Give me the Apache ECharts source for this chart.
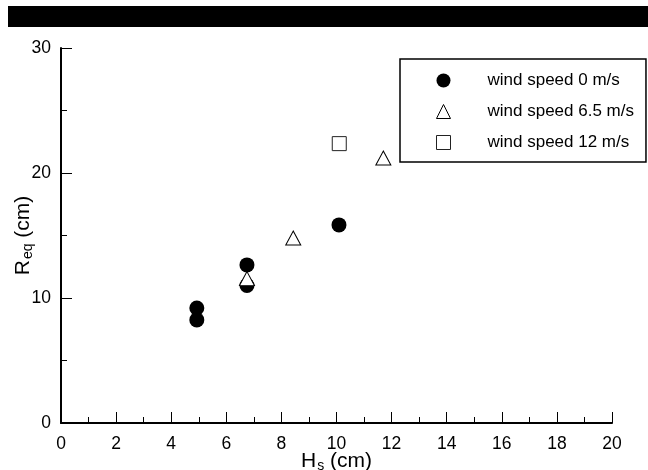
<!DOCTYPE html>
<html>
<head>
<meta charset="utf-8">
<script src="https://cdn.jsdelivr.net/npm/echarts@6/dist/echarts.min.js"></script>
<style>
  html, body { margin: 0; padding: 0; background: #fff; }
  #chart { width: 648px; height: 470px; }
</style>
</head>
<body>
<div id="chart"></div>
<script>
// Equivalent run-up R_eq versus significant wave height H_s, grouped by wind speed
const seriesNames = ['wind speed 0 m/s', 'wind speed 6.5 m/s', 'wind speed 12 m/s'];
const wind0 = [[4.93, 9.2], [4.93, 8.25], [6.75, 12.65], [6.75, 11.0], [10.09, 15.85]];
const wind65 = [[6.75, 11.55], [8.43, 14.8], [11.7, 21.2]];
const wind12 = [[10.1, 22.35]];
const xTicks = { min: 0, max: 20, interval: 2 };
const yTicks = { min: 0, max: 30, interval: 10 };

const FONT = '"Liberation Sans", Arial, sans-serif';
const chart = echarts.init(document.getElementById('chart'), null, { renderer: 'canvas' });

const axisCommon = {
  axisLine: { show: true, onZero: false, lineStyle: { color: '#000', width: 2 } },
  axisTick: { show: true, inside: true, length: 11, lineStyle: { color: '#000', width: 1 } },
  minorTick: { show: true, splitNumber: 2, length: 6, lineStyle: { color: '#000', width: 1 } },
  splitLine: { show: false },
  axisLabel: { color: '#000', fontFamily: FONT, fontSize: 17.5 }
};

const titleRich = {
  a: { fontFamily: FONT, fontSize: 21, color: '#000' },
  b: { fontFamily: FONT, fontSize: 14, color: '#000', padding: [9, 0, 0, 1] }
};

chart.setOption({
  animation: false,
  backgroundColor: '#fff',
  grid: { left: 61, right: 36, top: 48, bottom: 47, containLabel: false, outerBoundsMode: 'none' },
  graphic: [
    { type: 'rect', shape: { x: 8, y: 6, width: 640, height: 21 }, style: { fill: '#000' }, silent: true }
  ],
  legend: {
    orient: 'vertical',
    left: 400,
    top: 59,
    selectedMode: false,
    data: seriesNames,
    itemWidth: 14,
    itemHeight: 14,
    itemGap: 14,
    padding: [13, 12, 11, 36],
    borderColor: '#000',
    borderWidth: 1.5,
    backgroundColor: '#fff',
    itemStyle: { borderWidth: 1 },
    textStyle: { color: '#000', fontFamily: FONT, fontSize: 17, padding: [0, 0, 0, 32] }
  },
  xAxis: Object.assign({}, axisCommon, {
    type: 'value',
    min: xTicks.min, max: xTicks.max, interval: xTicks.interval,
    axisLabel: Object.assign({}, axisCommon.axisLabel, { margin: 12 }),
    name: '{a|H}{b|s}{a| (cm)}',
    nameLocation: 'middle',
    nameGap: 27,
    nameMoveOverlap: false,
    nameTextStyle: { rich: titleRich }
  }),
  yAxis: Object.assign({}, axisCommon, {
    type: 'value',
    min: yTicks.min, max: yTicks.max, interval: yTicks.interval,
    axisLabel: Object.assign({}, axisCommon.axisLabel, { margin: 10 }),
    name: '{a|R}{b|eq}{a| (cm)}',
    nameLocation: 'middle',
    nameGap: 26,
    nameMoveOverlap: false,
    nameRotate: 90,
    nameTextStyle: { rich: titleRich }
  }),
  series: [
    {
      name: seriesNames[0], type: 'scatter', data: wind0,
      symbol: 'circle', symbolSize: 15,
      itemStyle: { color: '#000', opacity: 1 }, z: 2
    },
    {
      name: seriesNames[1], type: 'scatter', data: wind65,
      symbol: 'triangle', symbolSize: [15, 14],
      itemStyle: { color: '#fff', borderColor: '#000', borderWidth: 1, opacity: 1 }, z: 3
    },
    {
      name: seriesNames[2], type: 'scatter', data: wind12,
      symbol: 'rect', symbolSize: 14,
      itemStyle: { color: '#fff', borderColor: '#222', borderWidth: 1, opacity: 1 }, z: 3
    }
  ]
});
</script>
</body>
</html>
